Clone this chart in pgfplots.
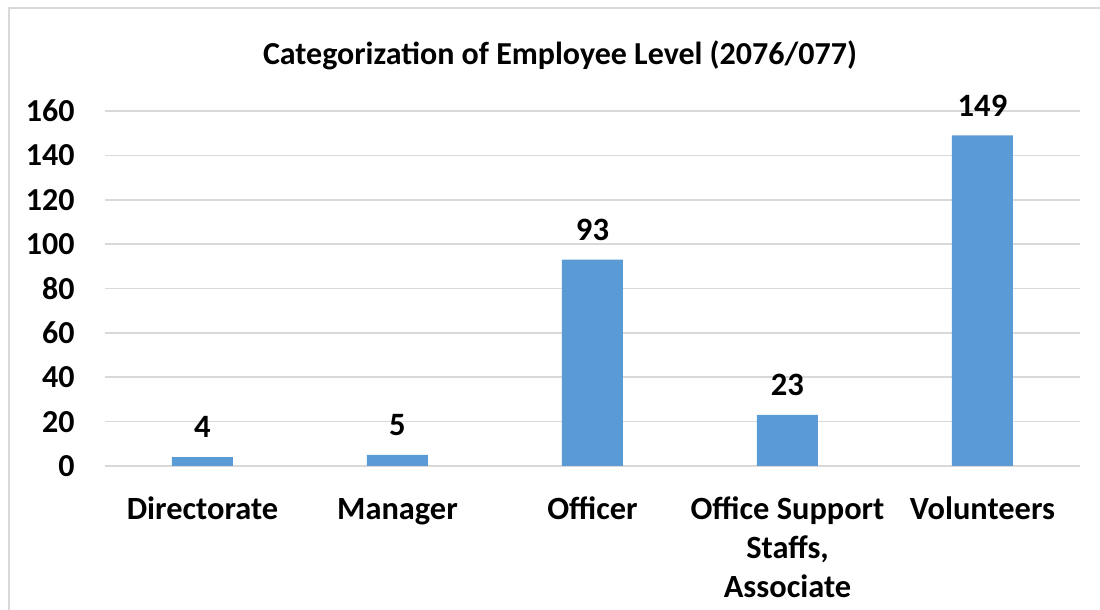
\documentclass[border=0pt]{standalone}
\usepackage{fontspec}
\setmainfont{Carlito}
\usepackage{pgfplots}
\pgfplotsset{compat=1.18}
\definecolor{barblue}{HTML}{5B9BD5}
\definecolor{gridgray}{HTML}{D9D9D9}

\begin{document}
\begin{tikzpicture}
% frame of the chart area (only left and top edges are on the page)
\draw[gridgray, line width=0.8pt] (-48pt,-90pt) rectangle (510pt,229pt);

\begin{axis}[
  scale only axis,
  width=487.5pt, height=177.5pt,
  xmin=-0.5, xmax=4.5,
  ymin=0, ymax=160,
  ybar, bar width=30.5pt,
  xtick={0,1,2,3,4},
  xticklabels={\vphantom{Dfl}Directorate, \vphantom{Dfl}Manager, \vphantom{Dfl}Officer, {\vphantom{Dfl}Office Support\\Staffs,\\Associate}, \vphantom{Dfl}Volunteers},
  x tick label style={font=\fontsize{16.2}{19.5}\selectfont\bfseries, align=center, anchor=north, inner sep=0pt, yshift=-11pt},
  major x tick style={draw=none},
  extra x ticks={-0.5,0.5,1.5,2.5,3.5,4.5},
  extra x tick labels={},
  extra x tick style={major tick length=5pt, tick align=outside, tick style={gridgray, line width=0.8pt}},
  ytick={0,20,40,60,80,100,120,140,160},
  y tick label style={font=\fontsize{16}{19}\selectfont\bfseries, anchor=east, inner sep=0pt, xshift=-15pt},
  /pgf/number format/assume math mode=true,
  ytick style={draw=none},
  ymajorgrids,
  grid style={gridgray, line width=0.8pt},
  axis x line*=bottom, axis y line*=left,
  x axis line style={gridgray, line width=0.8pt, -},
  y axis line style={draw=none},
  nodes near coords,
  every node near coord/.append style={font=\fontsize{16.3}{19}\selectfont\bfseries, black, inner sep=0pt, yshift=9.5pt},
  clip=false,
]
\addplot[fill=barblue, draw=none] coordinates {(0,4) (1,5) (2,93) (3,23) (4,149)};
\end{axis}

\node[font=\fontsize{16}{19}\selectfont\bfseries] at (227.5pt,205.5pt) {Categorization of Employee Level (2076/077)};

\pgfresetboundingbox
\useasboundingbox (-52.5pt,-72pt) rectangle (497.5pt,233pt);
\end{tikzpicture}
\end{document}
